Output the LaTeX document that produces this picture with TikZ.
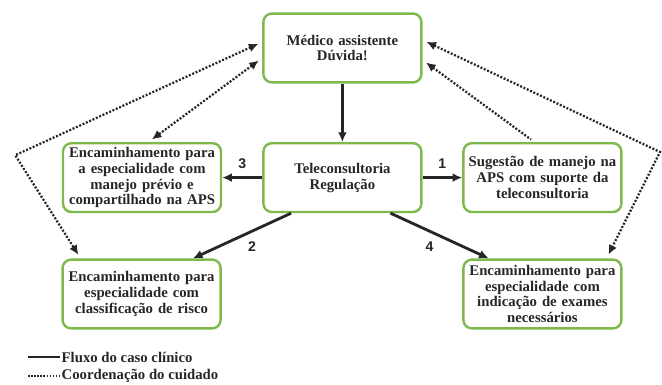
\documentclass[tikz,border=0pt]{standalone}
\usepackage{fontspec}
\setmainfont{Liberation Serif}
\setsansfont{Liberation Sans}
\usetikzlibrary{arrows.meta, calc}
\definecolor{verdecaixa}{RGB}{125,185,75}

\begin{document}
\begin{tikzpicture}[
  caixa/.style={draw=verdecaixa, line width=1.7pt, rounded corners=6pt, fill=white,
    minimum width=3.95cm, minimum height=1.72cm, text width=3.85cm, align=center,
    inner sep=1pt, font=\bfseries\fontsize{10.5}{11.3}\selectfont, text=black!85},
  fluxo/.style={-{Latex[length=2.4mm,width=2.2mm]}, line width=2pt, black!85},
  coord/.style={line width=1.6pt, dash pattern=on 1.4pt off 1.2pt, black!85,
    >={Latex[length=2.4mm,width=2.2mm]}, shorten <=3pt, shorten >=3pt},
  num/.style={font=\sffamily\bfseries, text=black!85},
  legenda/.style={font=\bfseries\fontsize{10.5}{12}\selectfont, text=black!85, inner sep=1pt}
]
  \useasboundingbox (0,0) rectangle (16.55,-9.625);
  % caixas
  \node[caixa] (medico) at (8.56,-1.2) {Médico assistente\\Dúvida!};
  \node[caixa] (tele) at (8.56,-4.44) {Teleconsultoria\\Regulação};
  \node[caixa] (esq) at (3.55,-4.44) {Encaminhamento para\\a especialidade com\\manejo prévio e\\compartilhado na APS};
  \node[caixa] (dir) at (13.56,-4.44) {Sugestão de manejo na\\APS com suporte da\\teleconsultoria};
  \node[caixa] (bl) at (3.54,-7.35) {Encaminhamento para\\especialidade com\\classificação de risco};
  \node[caixa] (br) at (13.56,-7.35) {Encaminhamento para\\especialidade com\\indicação de exames\\necessários};
  % fluxo do caso
  \draw[fluxo] (medico) -- (tele);
  \draw[fluxo] (tele) -- node[num, above=2pt] (n3) {3} (esq);
  \draw[fluxo] (tele) -- node[num, above=2pt] (n1) {1} (dir);
  \draw[fluxo] ($(tele.south west)!0.18!(tele.south east)$) -- node[num, below right] (n2) {2} ($(bl.north west)!0.82!(bl.north east)$);
  \draw[fluxo] ($(tele.south west)!0.8!(tele.south east)$) -- node[num, below left] (n4) {4} ($(br.north west)!0.165!(br.north east)$);
  % coordenacao
  \coordinate (cantoE) at (0.38,-3.88);
  \coordinate (cantoD) at (16.5,-3.8);
  \draw[coord, <->] ([yshift=0.15cm]medico.west) -- (cantoE) -- ($(bl.north west)!0.12!(bl.north east)$);
  \draw[coord, <->] ([yshift=-0.25cm]medico.west) -- ($(esq.north west)!0.54!(esq.north east)$);
  \draw[coord, <->] ([yshift=0.2cm]medico.east) -- (cantoD) -- ($(br.north west)!0.9!(br.north east)$);
  \draw[coord, <-] ([yshift=-0.3cm]medico.east) -- ($(dir.north west)!0.45!(dir.north east)$);
  % legenda
  \coordinate (legA) at (0.7,-8.93);
  \coordinate (legC) at (0.7,-9.4);
  \node[legenda, anchor=west] (legfluxo) at (1.5,-8.93) {Fluxo do caso clínico};
  \node[legenda, anchor=west] (legcoord) at (1.5,-9.4) {Coordenação do cuidado};
  \draw[line width=1.8pt, black!85] (legA) -- (legfluxo.west);
  \draw[line width=1.2pt, dash pattern=on 1.1pt off 1.1pt, black!85] (legC) -- (legcoord.west);
\end{tikzpicture}
\end{document}
